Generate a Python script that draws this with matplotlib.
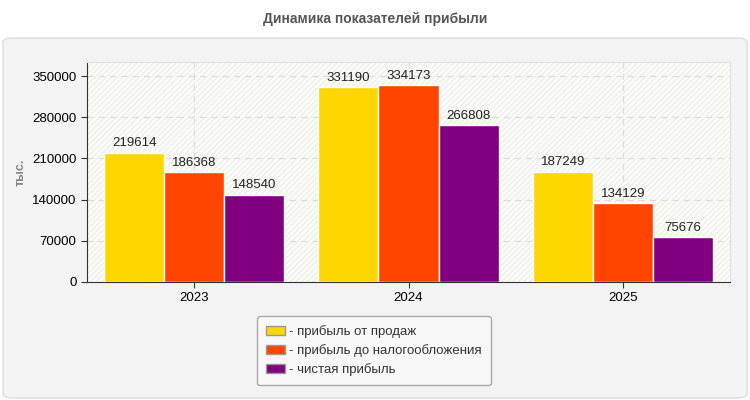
import numpy as np
import matplotlib.pyplot as plt
from matplotlib.patches import FancyBboxPatch, Rectangle

plt.rcParams['font.family'] = ['Liberation Sans', 'DejaVu Sans']

years = ['2023', '2024', '2025']
sales_profit = [219614, 331190, 187249]
pretax_profit = [186368, 334173, 134129]
net_profit = [148540, 266808, 75676]
series_names = ['- прибыль от продаж', '- прибыль до налогообложения', '- чистая прибыль']
colors = ['#ffd700', '#ff4500', '#800080']
yticks = [0, 70000, 140000, 210000, 280000, 350000]

fig = plt.figure(figsize=(7.5, 4), dpi=100)
fig.patch.set_facecolor('white')

# серая подложка с закруглёнными углами
panel = FancyBboxPatch((3/750, 2/400), 744/750, 360/400,
                       boxstyle='round,pad=0,rounding_size=0.012',
                       transform=fig.transFigure, facecolor='#f3f3f3',
                       edgecolor='#dddddd', linewidth=1, zorder=-5)
fig.patches.append(panel)

fig.text(0.5, 1 - 19/400, 'Динамика показателей прибыли', ha='center', va='center',
         fontsize=10, fontweight='bold', color='#555555')

ax = fig.add_axes([87/750, 1 - 282/400, 643/750, 220/400])
ax.set_facecolor('#fcfcf8')
ax.add_patch(Rectangle((0, 0), 1, 1, transform=ax.transAxes, facecolor='none',
                       edgecolor='#f0f0ea', hatch='//////', linewidth=0, zorder=0))

x = np.arange(len(years))
w = 0.28
data = [sales_profit, pretax_profit, net_profit]
for i, vals in enumerate(data):
    pos = x + (i - 1) * w
    bars = ax.bar(pos, vals, width=w, color=colors[i], edgecolor='white',
                  linewidth=1, label=series_names[i], zorder=3)
    for b, v in zip(bars, vals):
        ax.text(b.get_x() + b.get_width() / 2, v + 6000, str(v), ha='center',
                va='bottom', fontsize=9.5, color='#222222', zorder=4)

ax.set_xlim(-0.5, 2.5)
ax.set_ylim(0, 374000)
ax.set_yticks(yticks)
ax.set_yticklabels([str(t) for t in yticks], fontsize=9.5)
ax.set_xticks(x)
ax.set_xticklabels(years, fontsize=9.5)
ax.grid(True, linestyle=(0, (5, 4)), color='#dddddd', linewidth=0.9, zorder=1)
ax.set_axisbelow(True)
for s in ['top', 'right']:
    ax.spines[s].set_color('#e0e0e0')
for s in ['left', 'bottom']:
    ax.spines[s].set_color('#333333')
ax.tick_params(axis='both', length=4, color='#333333')
ax.set_ylabel('тыс.', fontsize=9, fontweight='bold', color='#888888', labelpad=4)

leg = fig.legend(loc='upper left', bbox_to_anchor=(257/750, 1 - 316/400),
                 borderaxespad=0, frameon=True, fontsize=9.5, handlelength=1.4,
                 handleheight=0.7, handletextpad=0.3, labelspacing=0.45,
                 borderpad=0.7, fancybox=True, facecolor='#f8f8f8',
                 edgecolor='#aaaaaa')
leg.get_frame().set_alpha(1)
for h in leg.legend_handles:
    h.set_edgecolor('#999999')
for t in leg.get_texts():
    t.set_color('#333333')

fig.savefig('out.png', dpi=100)
